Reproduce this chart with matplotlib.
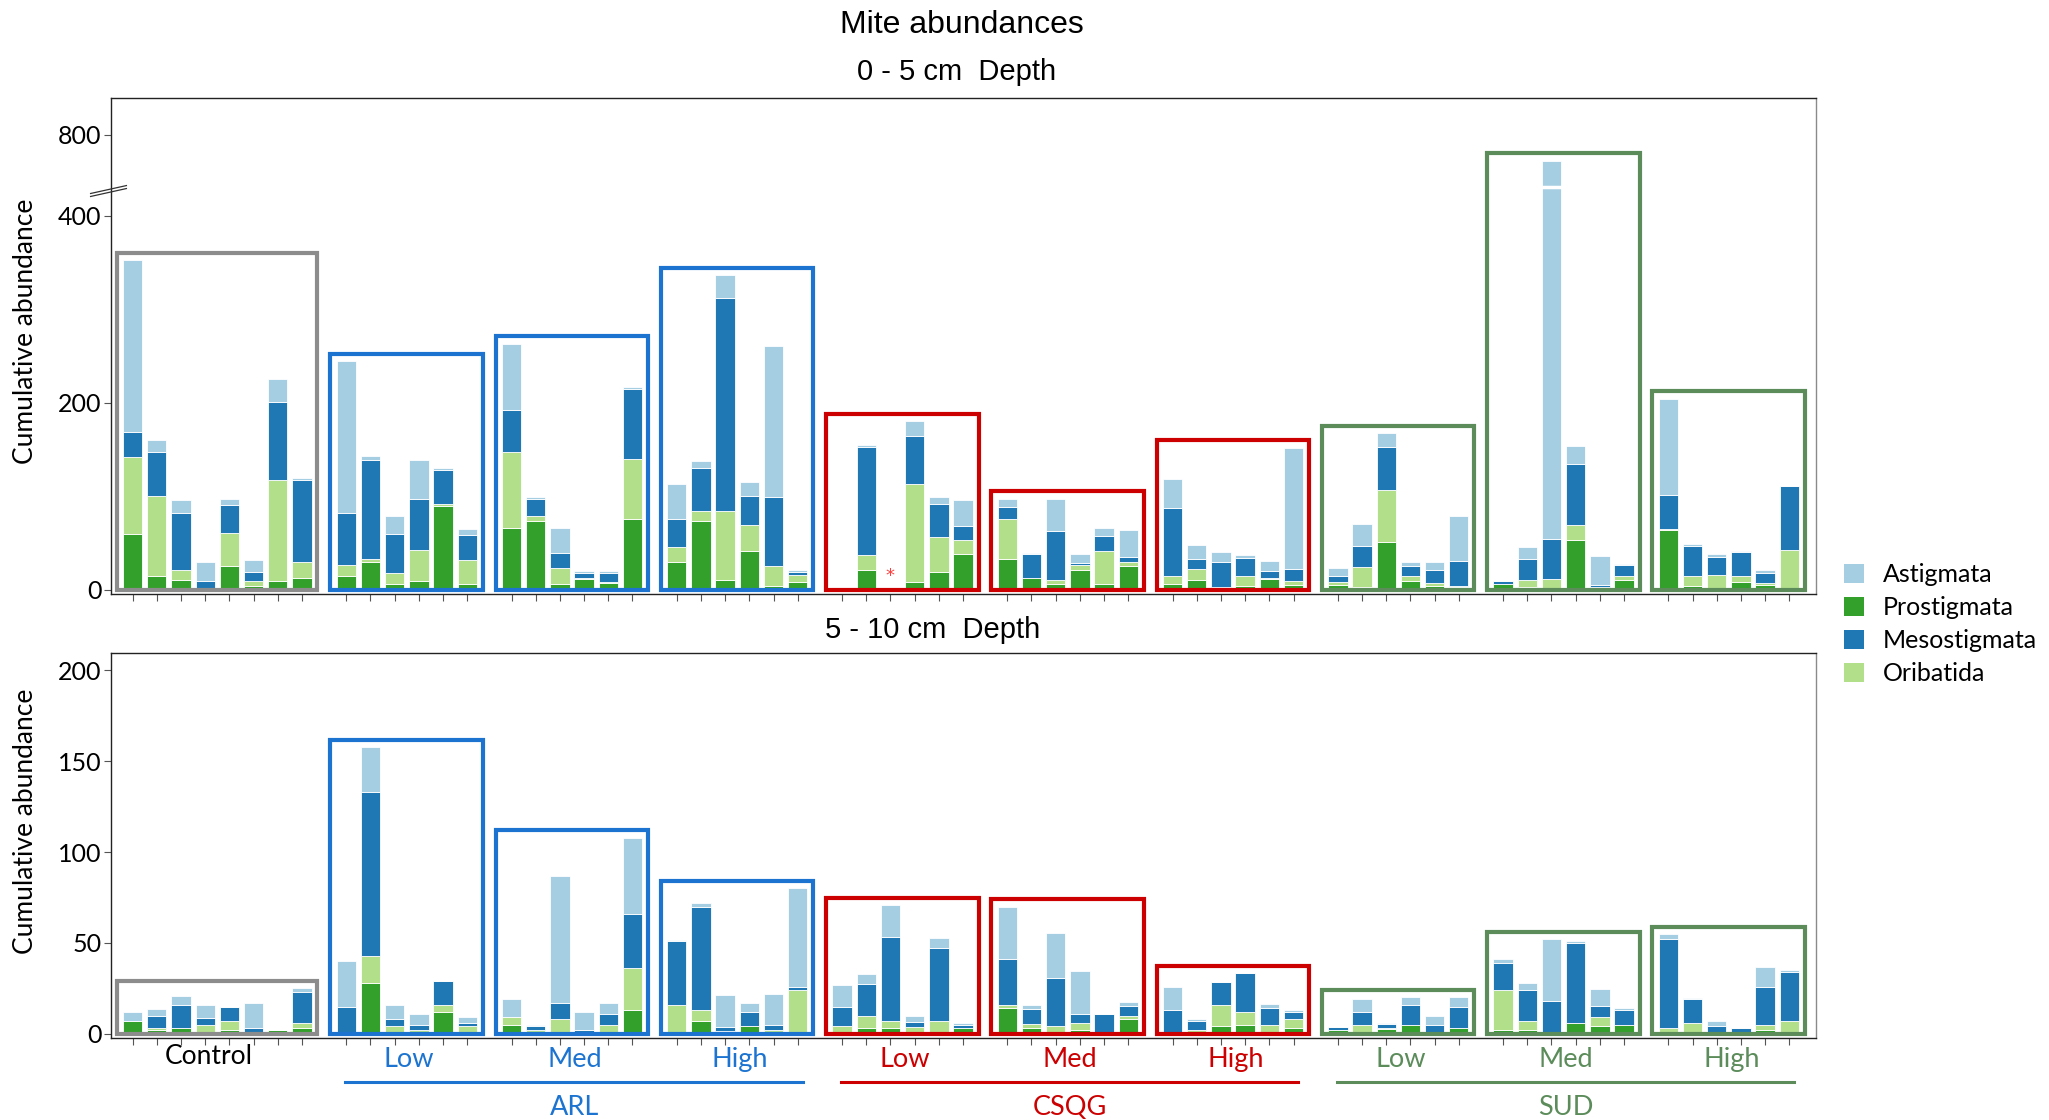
"""
Mite abundances -- stacked bars per plot, two soil depths.
Saves out.png
"""

import matplotlib
matplotlib.use("Agg")
import matplotlib.pyplot as plt
import numpy as np
from matplotlib.patches import Patch, Rectangle
from matplotlib.transforms import blended_transform_factory

# ---------------------------------------------------------------- data
# group order: Control (8 plots), then Low/Med/High for ARL, CSQG, SUD (6 plots each)
GROUP_SIZES = [8, 6, 6, 6, 6, 6, 6, 6, 6, 6]
LEVELS = ["Control", "Low", "Med", "High", "Low", "Med", "High", "Low", "Med", "High"]
TREATMENTS = ["ARL", "CSQG", "SUD"]
TAXA = ["Astigmata", "Prostigmata", "Mesostigmata", "Oribatida"]

# 0 - 5 cm
TOP_PROSTIGMATA = [59, 14, 10, 1, 25, 4, 9, 12,
                   14, 29, 6, 9, 89, 6,
                   66, 73, 6, 11, 7, 76,
                   30, 73, 10, 41, 4, 8,
                   0, 21, 0, 8, 19, 38.5,
                   33, 12, 6, 21, 6, 25,
                   6, 10, 2, 4, 11, 5,
                   5, 3, 51, 9, 4, 2.5,
                   6, 3, 1, 53.5, 2.5, 10,
                   64, 4, 1, 8, 5, 1]
TOP_ORIBATIDA = [83, 86, 11, 0, 36, 5, 108, 17,
                 12, 4, 12, 33, 2.5, 26,
                 81, 6, 17, 1, 1, 64,
                 15, 11, 74, 28, 21, 8,
                 0, 16, 0, 105, 37, 14,
                 42, 0.5, 4, 5, 35, 4,
                 9, 12, 1, 11, 1.5, 4,
                 3, 21, 55, 6, 3, 1,
                 0, 7, 10, 16, 0.5, 5,
                 1, 10, 15, 6.5, 2, 41]
TOP_MESOSTIGMATA = [26, 47, 61, 8, 29, 10, 84, 88,
                    56, 106, 41, 55, 36, 26,
                    45, 18, 16, 6, 10, 74,
                    30, 46, 228, 31, 74, 3,
                    1, 116, 0, 51, 35, 15,
                    13, 26, 53, 2, 16, 6,
                    72, 11, 27, 19, 7, 12.5,
                    6, 23, 47, 10, 14, 27.5,
                    3, 23, 43, 65, 1.5, 11,
                    36, 33, 19, 26, 11, 68.5]
TOP_ASTIGMATA = [184, 13, 14, 21, 7, 13, 24, 2.5,
                 162, 4, 20, 42, 2.5, 7,
                 71, 2, 27, 2, 2, 2.5,
                 38, 8, 24, 15, 161, 2,
                 1, 2, 0, 16, 8, 28.5,
                 9, 1, 34, 10, 9, 28.5,
                 31, 15, 10, 3, 11, 130,
                 9, 23.5, 14, 4, 9, 48,
                 0, 13, 563, 19, 31, 1,
                 103, 2, 3.5, 1, 3, 0.7]

# 5 - 10 cm
BOT_PROSTIGMATA = [7, 2, 3, 1, 2, 0, 2, 3,
                   1, 28, 0, 0, 12, 0,
                   5, 0, 0, 0, 1, 13,
                   1, 7, 1, 4, 0, 0,
                   0, 3, 3, 1, 0, 3.3,
                   14, 3, 1, 2, 0, 8,
                   1, 1, 4, 5, 1, 3,
                   2, 1, 2.4, 5, 1, 3,
                   2, 2, 1, 6, 4, 5,
                   1, 0, 1, 0, 2, 1]
BOT_ORIBATIDA = [0, 1, 0, 3.7, 5, 0, 0, 3,
                 0, 15, 4, 2, 4, 4,
                 4, 2, 8, 0, 4, 23,
                 15, 6, 0.5, 0, 2, 24,
                 4, 6.5, 4, 2.5, 7, 0,
                 2, 2.5, 3, 3.7, 1, 2,
                 0, 1, 12, 7, 4, 5,
                 0, 4, 1, 0, 0, 0,
                 22, 5, 0, 0, 5, 0,
                 2, 6, 0, 0, 3, 6]
BOT_MESOSTIGMATA = [0, 6.6, 13, 4, 8, 3, 0, 17,
                    14, 90, 4, 3, 13, 2,
                    0, 2, 9, 2, 6, 30,
                    35, 57, 2, 8, 3, 2,
                    11, 18, 46, 3, 40, 1.5,
                    25, 8, 26.5, 5, 10, 5.5,
                    12, 5, 12.6, 21.5, 9, 4,
                    1.5, 7, 2, 11, 4, 12,
                    15, 17, 17, 44, 6.5, 8,
                    49, 13, 3, 3, 21, 27]
BOT_ASTIGMATA = [5, 4, 5, 7.4, 0, 14, 0, 2,
                 25, 25, 8, 6, 0, 3,
                 10, 1, 70, 10, 6, 42,
                 0.5, 2, 18, 5, 17, 54,
                 12, 5.5, 18, 3.5, 5.5, 1,
                 29, 2.5, 25, 24, 0, 2,
                 13, 1, 0, 0, 2.4, 1,
                 0, 7, 0.6, 4, 4.6, 5,
                 2, 3.7, 34, 1, 9, 1,
                 3, 0.5, 3, 0, 11, 1]

# ---------------------------------------------------------------- style
TAXON_COLORS = {
    "Prostigmata": "#33a02c",
    "Oribatida": "#b2df8a",
    "Mesostigmata": "#1f78b4",
    "Astigmata": "#a6cee3",
}
STACK_ORDER = ["Prostigmata", "Oribatida", "Mesostigmata", "Astigmata"]
GROUP_COLORS = ["#8c8c8c"] + ["#1c74d0"] * 3 + ["#cc0000"] * 3 + ["#5b8c5a"] * 3
TREAT_COLORS = ["#1c74d0", "#cc0000", "#5b8c5a"]

GAP = 0.83          # extra space between plot groups (bar units)
BAR_W = 0.8
BREAK = 430         # y-axis break on the 0-5 cm panel
SQUEEZE = 0.153     # compression above the break

LABEL_FONT = ["Lato", "DejaVu Sans"]
TITLE_FONT = ["Liberation Sans", "DejaVu Sans"]


def fwd(y):
    y = np.asarray(y, dtype=float)
    return np.where(y <= BREAK, y, BREAK + (y - BREAK) * SQUEEZE)


def inv(y):
    y = np.asarray(y, dtype=float)
    return np.where(y <= BREAK, y, BREAK + (y - BREAK) / SQUEEZE)


def bar_positions():
    xs, groups = [], []
    start = 0.0
    for n in GROUP_SIZES:
        g = start + np.arange(n)
        xs.append(g)
        groups.append(g)
        start += n + GAP
    return np.concatenate(xs), groups


def draw_panel(ax, layers, x, groups, pad, top_fn=None, bot_fn=None):
    bottom = np.zeros(len(x))
    for taxon in STACK_ORDER:
        vals = np.asarray(layers[taxon], dtype=float)
        ax.bar(x, vals, bottom=bottom, width=BAR_W, color=TAXON_COLORS[taxon],
               edgecolor="white", linewidth=0.6, zorder=1)
        bottom += vals

    # outline each plot group
    i0 = 0
    for gx, col in zip(groups, GROUP_COLORS):
        n = len(gx)
        peak = bottom[i0:i0 + n].max()
        top = peak + pad if top_fn is None else float(bot_fn(top_fn(peak) + pad))
        ax.add_patch(Rectangle((gx[0] - 0.66, 0), gx[-1] - gx[0] + 1.3, top,
                               fill=False, edgecolor=col, linewidth=3.0, zorder=3))
        i0 += n

    for side in ["top", "left", "bottom"]:
        ax.spines[side].set_color("#222222")
        ax.spines[side].set_linewidth(1.0)
    ax.spines["right"].set_color("#8a8a8a")
    ax.spines["right"].set_linewidth(1.0)

    ax.set_xticks(x)
    ax.set_xticklabels([])
    ax.tick_params(axis="x", length=5, width=0.8, color="#555555")
    ax.tick_params(axis="y", length=5, width=0.8, color="#555555", labelsize=18, pad=2)
    ax.set_ylabel("Cumulative abundance", fontsize=19, family=LABEL_FONT)
    ax.set_xlim(x[0] - 0.89, x[-1] + 1.12)


def main():
    x, groups = bar_positions()
    fig = plt.figure(figsize=(20.49, 11.2), dpi=100)

    # ---- 0 - 5 cm
    ax1 = fig.add_axes([0.0542, 0.4696, 0.8323, 0.4429])
    ax1.set_yscale("function", functions=(fwd, inv))
    top_layers = {"Prostigmata": TOP_PROSTIGMATA, "Oribatida": TOP_ORIBATIDA,
                  "Mesostigmata": TOP_MESOSTIGMATA, "Astigmata": TOP_ASTIGMATA}
    draw_panel(ax1, top_layers, x, groups, pad=8, top_fn=fwd, bot_fn=inv)
    ax1.set_ylim(-4.8, 1056)
    ax1.set_yticks([0, 200, 400, 800])
    for lab in ax1.get_yticklabels():
        lab.set_fontfamily(LABEL_FONT)
    ax1.axhline(BREAK + 2, color="white", linewidth=2.5, zorder=2.2)
    ax1.yaxis.set_label_coords(-0.043, 0.53)

    # axis-break mark on the left spine
    yb = (ax1.transData + ax1.transAxes.inverted()).transform((0, BREAK))[1]
    for dy in (-0.006, 0.0):
        ax1.plot([-0.012, 0.009], [yb - 0.012 + dy, yb + 0.004 + dy],
                 transform=ax1.transAxes, color="#333333", linewidth=0.9,
                 clip_on=False, zorder=5)

    # empty plot marker
    star_x = groups[4][2]
    ax1.text(star_x, 15, "*", color="#ff3b3b", fontsize=13, ha="center",
             va="center", zorder=4)

    # ---- 5 - 10 cm
    ax2 = fig.add_axes([0.0542, 0.0736, 0.8323, 0.3430])
    bot_layers = {"Prostigmata": BOT_PROSTIGMATA, "Oribatida": BOT_ORIBATIDA,
                  "Mesostigmata": BOT_MESOSTIGMATA, "Astigmata": BOT_ASTIGMATA}
    draw_panel(ax2, bot_layers, x, groups, pad=4)
    ax2.set_ylim(-2.1, 209.4)
    ax2.set_yticks([0, 50, 100, 150, 200])
    for lab in ax2.get_yticklabels():
        lab.set_fontfamily(LABEL_FONT)
    ax2.yaxis.set_label_coords(-0.043, 0.564)

    # ---- group labels under the lower panel
    tr = blended_transform_factory(ax2.transData, fig.transFigure)
    for gx, lev, col in zip(groups, LEVELS, ["black"] + GROUP_COLORS[1:]):
        if lev == "Control":
            ax2.text(gx.mean() - 0.35, 0.0571, lev, transform=tr, ha="center",
                     va="center", fontsize=19, color=col, family=LABEL_FONT)
        else:
            ax2.text(gx.mean() + 0.1, 0.0536, lev, transform=tr, ha="center",
                     va="center", fontsize=19.5, color=col, family=LABEL_FONT)
    for k, (name, col) in enumerate(zip(TREATMENTS, TREAT_COLORS)):
        g_lo, g_hi = groups[1 + 3 * k], groups[3 + 3 * k]
        ax2.plot([g_lo[0] - 0.05, g_hi[-1] + 0.2], [0.034, 0.034], transform=tr,
                 color=col, linewidth=2.2, clip_on=False)
        ax2.text((g_lo[0] + g_hi[-1]) / 2 + 0.1, 0.0116, name, transform=tr,
                 ha="center", va="center", fontsize=19.5, color=col,
                 family=LABEL_FONT)

    # ---- titles
    fig.text(0.4695, 0.978, "Mite abundances", ha="center", va="center",
             fontsize=23, family=TITLE_FONT)
    fig.text(0.467, 0.936, "0 - 5 cm  Depth", ha="center", va="center",
             fontsize=21, family=TITLE_FONT)
    fig.text(0.455, 0.4375, "5 - 10 cm  Depth", ha="center", va="center",
             fontsize=21, family=TITLE_FONT)

    # ---- legend
    handles = [Patch(facecolor=TAXON_COLORS[t], edgecolor="none") for t in TAXA]
    fig.legend(handles, TAXA, loc="upper left", bbox_to_anchor=(0.895, 0.506),
               frameon=False, prop={"family": LABEL_FONT, "size": 18},
               handlelength=0.8, handleheight=0.8, handletextpad=0.75,
               labelspacing=0.4, borderaxespad=0)

    fig.savefig("out.png", dpi=100)
    plt.close(fig)


if __name__ == "__main__":
    main()
